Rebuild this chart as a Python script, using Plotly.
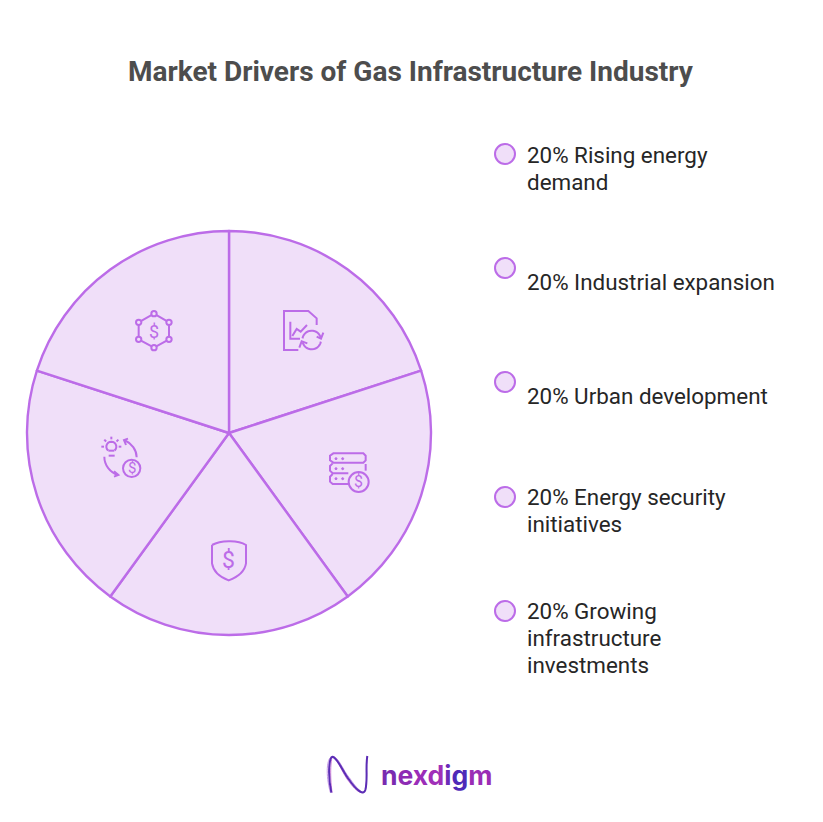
import math
import plotly.graph_objects as go

W, H = 823, 822
TITLE = "Market Drivers of Gas Infrastructure Industry"
CATEGORIES = ["Rising energy demand", "Industrial expansion", "Urban development",
              "Energy security initiatives", "Growing infrastructure investments"]
VALUES = [20, 20, 20, 20, 20]
LEGEND_LINES = [["20% Rising energy", "demand"], ["20% Industrial expansion"], ["20% Urban development"],
                ["20% Energy security", "initiatives"], ["20% Growing", "infrastructure", "investments"]]

FILL = "#F0DFF9"
STROKE = "#BC6CE8"
TEXT = "#262626"
CX, CY, R = 229, 433, 202

def px(x): return x / W
def py(y): return 1 - y / H

shapes, annos = [], []

def P(points, close=False, width=2, color=STROKE):
    d = "M" + " L".join(f"{px(x):.5f},{py(y):.5f}" for x, y in points) + (" Z" if close else "")
    shapes.append(dict(type="path", xref="paper", yref="paper", path=d, line=dict(color=color, width=width)))

def C(segments, color=STROKE, width=2):
    s = segments[0]
    d = f"M{px(s[0]):.5f},{py(s[1]):.5f}"
    for c1, c2, e in segments[1:]:
        d += f" C{px(c1[0]):.5f},{py(c1[1]):.5f} {px(c2[0]):.5f},{py(c2[1]):.5f} {px(e[0]):.5f},{py(e[1]):.5f}"
    shapes.append(dict(type="path", xref="paper", yref="paper", path=d, line=dict(color=color, width=width)))

def O(x, y, r, width=2, fill="rgba(0,0,0,0)", color=STROKE):
    shapes.append(dict(type="circle", xref="paper", yref="paper", x0=px(x - r), x1=px(x + r),
                       y0=py(y + r), y1=py(y - r), line=dict(color=color, width=width), fillcolor=fill))

def T(x, y, s, size, color=TEXT, weight=400, anchor="left", yanchor="middle", family="Roboto"):
    annos.append(dict(x=px(x), y=py(y), xref="paper", yref="paper", text=s, showarrow=False,
                      xanchor=anchor, yanchor=yanchor, align="left", borderpad=0, borderwidth=0,
                      font=dict(family=family, size=size, color=color, weight=weight)))

def Z(zx, zy):
    return (100 + zx / 3, 280 + zy / 3)

def ZL(pts, close=False, **kw):
    P([Z(*p) for p in pts], close, **kw)

def arc(zx, zy, r, a0, a1, n=14):
    return [(zx + r * math.cos(math.radians(a0 + (a1 - a0) * i / n)),
             zy + r * math.sin(math.radians(a0 + (a1 - a0) * i / n))) for i in range(n + 1)]

def ZO(zx, zy, r, **kw):
    x, y = Z(zx, zy)
    O(x, y, r / 3, **kw)

def dollar(zx, zy, size):
    x, y = Z(zx, zy)
    T(x, y, "$", size, color=STROKE, anchor="center")

# Icon: report with refresh arrows
ZL([(595, 210), (552, 210), (552, 93), (625, 93), (650, 115), (650, 135)])
ZL([(571, 125), (571, 176), (600, 176)])
ZL([(577, 168), (590, 147), (602, 155), (621, 135)])
ZL(arc(635, 180, 28, 190, 345))
ZL(arc(635, 180, 28, 10, 165))
ZL([(650, 170), (663, 176), (670, 158)])
ZL([(622, 190), (605, 184), (598, 203)])

# Icon: server with coin
ZL([(700, 520), (790, 520), (797, 527), (797, 541), (790, 548), (700, 548), (690, 541), (690, 527)], True)
ZL([(797, 552), (797, 572)])
ZL([(745, 580), (698, 580), (690, 572), (690, 558), (698, 550)])
ZL([(745, 612), (698, 612), (690, 605), (690, 590), (698, 582)])
for zx in (708, 728):
    for zy in (536, 566, 596):
        ZO(zx, zy, 3, width=1, fill=STROKE)
ZO(776, 606, 30)
dollar(776, 606, 16)

# Icon: shield
sx = lambda v: Z(*v)
C([sx((336, 795)), (sx((360, 782)), sx((412, 778)), sx((438, 795))),
   (sx((438, 815)), sx((438, 835)), sx((438, 850))),
   (sx((434, 875)), sx((410, 892)), sx((386, 901))),
   (sx((362, 892)), sx((340, 875)), sx((336, 850))),
   (sx((336, 835)), sx((336, 815)), sx((336, 795)))])
dollar(386, 840, 23)

# Icon: bulb with coin and arrows
ZL(arc(34, 500, 15, 130, 410))
ZL([(25, 512), (43, 512)])
ZL([(26, 527), (44, 527)])
for a in (180, 225, 270, 315, 360):
    ca, sa = math.cos(math.radians(a)), math.sin(math.radians(a))
    ZL([(34 + 22 * ca, 500 + 22 * sa), (34 + 30 * ca, 500 + 30 * sa)])
ZO(95, 565, 26)
dollar(95, 565, 15)
C([sx((110, 532)), (sx((110, 510)), sx((95, 490)), sx((73, 480)))])
ZL([(84, 476), (72, 480), (78, 495)])
C([sx((13, 530)), (sx((13, 555)), sx((30, 578)), sx((55, 585)))])
ZL([(42, 574), (55, 585), (42, 590)])

# Icon: hexagon network with coin
hexv = [(162, 101), (207, 127), (207, 178), (162, 203), (116, 178), (116, 127)]
ZL(hexv, True)
for v in hexv:
    ZO(v[0], v[1], 8, fill=FILL)
dollar(162, 153, 18)

# Legend markers and labels
MARK_Y = [154, 268, 382, 497, 611]
LABEL_Y = [155, 282, 396, 497, 611]
for my, ly, lines in zip(MARK_Y, LABEL_Y, LEGEND_LINES):
    O(505, my, 10, width=2, fill=FILL)
    for i, line in enumerate(lines):
        T(527, ly + i * 27, line, 22.4)

# Title
T(410.5, 71, f"<b>{TITLE}</b>", 28, color="#4D4D4D", anchor="center")

# Logo
def LX(zx, zy):
    return (310 + zx / 3, 740 + zy / 3)

for color, w, off in (("#C79BE8", 1, -7), ("#D17FD8", 1, 6), ("#5B2DB5", 2, 0)):
    C([LX(64 + off * .4, 158), (LX(52 + off, 100), LX(58 + off, 48), LX(68, 50)),
       (LX(85, 55 + off), LX(100, 100 + off), LX(118, 120 + off)),
       (LX(135, 145 + off), LX(160, 170), LX(166, 150)),
       (LX(174, 120), LX(166, 80), LX(172, 48))], color=color, width=w)
logo_colors = ["#7A2BB0", "#8E2BB4", "#9B2DB8", "#A02FB8", "#6A2BB8", "#4F2AB8", "#9A2DB5"]
logo = "".join(f'<span style="color:{c}">{ch}</span>' for ch, c in zip("nexdigm", logo_colors))
T(381, 775, f"<b>{logo}</b>", 26.5, anchor="left", family="Inter")

fig = go.Figure(go.Pie(
    labels=CATEGORIES, values=VALUES, sort=False, direction="clockwise", rotation=0,
    textinfo="none", hoverinfo="label+percent", showlegend=False,
    marker=dict(colors=[FILL] * len(VALUES), line=dict(color=STROKE, width=2.4)),
    domain=dict(x=[px(CX - R), px(CX + R)], y=[py(CY + R), py(CY - R)]),
))
fig.update_layout(width=W, height=H, margin=dict(l=0, r=0, t=0, b=0), autosize=False,
                  paper_bgcolor="white", plot_bgcolor="white", shapes=shapes, annotations=annos,
                  font=dict(family="Roboto"))
fig.write_html("out.html", config=dict(displayModeBar=False),
               post_script="document.body.style.margin='0';document.documentElement.style.overflow='hidden';")
